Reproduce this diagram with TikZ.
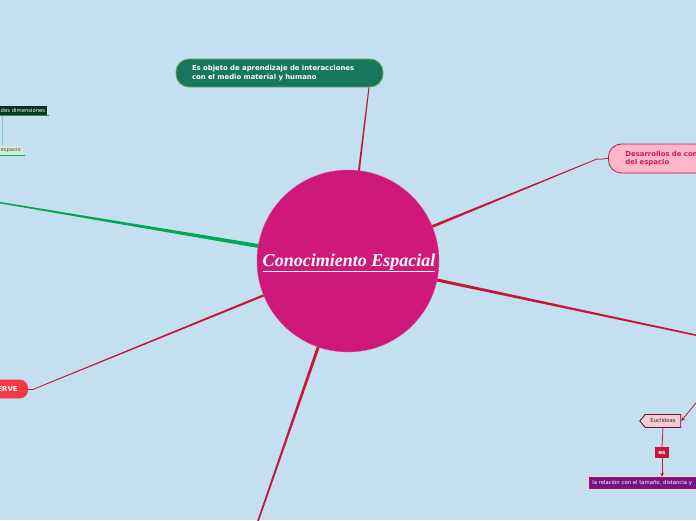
\documentclass[tikz,border=0pt]{standalone}
\usepackage{fontspec}
\setmainfont{Liberation Serif}
\setsansfont{DejaVu Sans}
\usetikzlibrary{calc,backgrounds,shapes.symbols,arrows.meta}

\definecolor{bgblue}{RGB}{195,223,240}
\definecolor{coremag}{RGB}{207,25,122}
\definecolor{linkred}{RGB}{200,22,55}
\definecolor{linkgreen}{RGB}{0,168,80}
\definecolor{objgreen}{RGB}{24,118,93}
\definecolor{objedge}{RGB}{95,170,85}
\definecolor{pinkfill}{RGB}{255,182,205}
\definecolor{pinktext}{RGB}{200,30,85}
\definecolor{ervered}{RGB}{245,55,70}
\definecolor{eucfill}{RGB}{240,205,215}
\definecolor{eucedge}{RGB}{105,20,40}
\definecolor{purplebox}{RGB}{115,20,135}
\definecolor{darkgreen}{RGB}{8,52,30}
\definecolor{lightgreen}{RGB}{210,238,210}
\definecolor{tealline}{RGB}{130,205,190}

% tapered branch: colour, from, to, half width at start, half width at end
\newcommand{\taper}[5]{%
  \fill[#1] ($(#2)!#4!90:(#3)$) -- ($(#3)!#5!-90:(#2)$) -- ($(#3)!#5!90:(#2)$) -- ($(#2)!#4!-90:(#3)$) -- cycle;}

\tikzset{
  topic/.style={font=\sffamily\bfseries\fontsize{6.9}{8.6}\selectfont, align=left, rounded corners=13pt, line width=0.8pt},
  small/.style={font=\sffamily\fontsize{5.3}{6.5}\selectfont, inner sep=2pt},
  thinlink/.style={draw=linkred, line width=0.8pt},
}

\begin{document}
\begin{tikzpicture}[x=1pt,y=-1pt]
    \useasboundingbox (0,0) rectangle (696,520);

    \node[circle, fill=coremag, draw=coremag!80!white, minimum size=182pt, inner sep=0pt] (core) at (348,261) {};
    \node[text=white, font=\bfseries\itshape\fontsize{18}{20}\selectfont] (title) at (349,263) {\underline{Conocimiento Espacial}};

    \node[topic, fill=objgreen, draw=objedge, text=white, text width=175pt, inner xsep=16pt, minimum height=28pt] (objeto) at (279.5,73)
        {Es objeto de aprendizaje de interacciones\\con el medio material y humano};
    \node[topic, fill=pinkfill, draw=linkred, text=pinktext, text width=100pt, inner xsep=17pt, minimum height=29pt, anchor=west] (desa) at (608,158.5)
        {Desarrollos de con\\del espacio};
    \node[topic, fill=ervered, draw=ervered, text=white, rounded corners=8pt, minimum height=18pt, inner xsep=10pt, anchor=east] (erve) at (28,389) {ERVE};

    \node[small, signal, signal to=west, signal pointer angle=100, fill=eucfill, draw=eucedge, line width=0.9pt, text=eucedge!80!black, minimum height=13pt, minimum width=41pt, inner xsep=3pt] (eucl) at (663,421) {Euclideas};
    \node[small, fill=linkred, text=white, font=\sffamily\bfseries\fontsize{5.8}{6}\selectfont, minimum width=14pt, minimum height=11pt] (es) at (662,452.5) {es};
    \node[small, fill=purplebox, draw=red!60!purplebox, line width=0.6pt, text=white, anchor=west, minimum height=11pt, text width=180pt, inner xsep=3pt] (rel) at (589,482.5) {la relación con el tamaño, distancia y};

    \node[small, fill=darkgreen, text=white, anchor=west, minimum height=10pt] (dim) at (-1.5,110.5) {des dimensiones};
    \node[small, fill=lightgreen, text=black!70, anchor=west, minimum height=10pt] (esp) at (-1.5,150.5) {espacio};
    \draw[linkgreen, line width=0.8pt] (dim.south west) -- ([xshift=2pt]dim.south east);
    \draw[linkgreen, line width=0.8pt] (esp.south west) -- ([xshift=2pt]esp.south east);

    \coordinate (offL) at (-4,202);
    \coordinate (offR) at (700,336);
    \coordinate (offR2) at (700,398);
    \coordinate (offB) at (257,524);
    \coordinate (kdesa) at (597,159);
    \coordinate (kerve) at (34,389);

    \begin{scope}[on background layer]
    \fill[bgblue] (0,0) rectangle (696,520);
    \taper{linkred}{core.center}{[xshift=89.5pt]objeto.south}{1.5pt}{0.5pt}
    \taper{linkred}{core.center}{kdesa}{1.8pt}{0.4pt}
    \draw[linkred, line width=0.8pt] (kdesa) to[out=-10, in=180] (desa.west);
    \taper{linkred}{core.center}{offR}{1.8pt}{0.8pt}
    \taper{linkred}{core.center}{offB}{1.8pt}{0.8pt}
    \taper{linkred}{core.center}{kerve}{1.4pt}{0.4pt}
    \draw[linkred, line width=0.8pt] (kerve) to[out=190, in=0] (erve.east);
    \taper{linkgreen}{core.center}{offL}{2.4pt}{0.7pt}
    \end{scope}

    \draw[thinlink, -{Stealth[length=4pt,width=4pt]}] (offR2) -- (eucl.east);
    \draw[thinlink] (eucl.south) -- (es.north);
    \draw[thinlink, -{Stealth[length=4pt,width=4pt]}] (es.south) -- (rel.north -| es.south);
    \draw[tealline, line width=0.8pt] (dim.south west) ++(4pt,0) coordinate (tl) -- (tl |- esp.north);
\end{tikzpicture}
\end{document}
